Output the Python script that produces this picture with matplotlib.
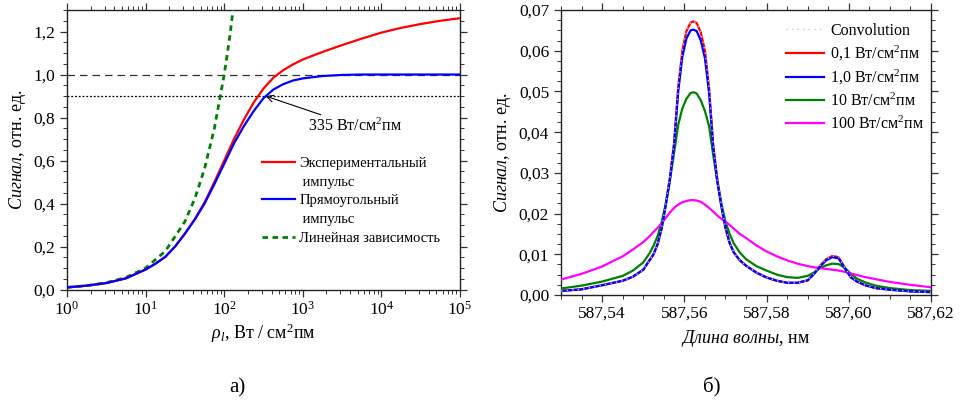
import numpy as np
import matplotlib
matplotlib.use("Agg")
import matplotlib.pyplot as plt
from matplotlib.lines import Line2D
from matplotlib.ticker import MultipleLocator, FuncFormatter, LogLocator, NullFormatter

plt.rcParams['font.family'] = ['Liberation Serif', 'DejaVu Serif']
plt.rcParams['mathtext.fontset'] = 'custom'
plt.rcParams['mathtext.rm'] = 'Liberation Serif'
plt.rcParams['mathtext.it'] = 'Liberation Serif:italic'
plt.rcParams['mathtext.bf'] = 'Liberation Serif:bold'

# ---------------- panel a) data ----------------
log_rho = [0, 0.25, 0.5, 0.75, 1.0, 1.125, 1.25, 1.375, 1.5, 1.625, 1.75, 1.875,
           2.0, 2.125, 2.25, 2.375, 2.5, 2.625, 2.75, 2.875, 3.0, 3.25, 3.5,
           3.75, 4.0, 4.25, 4.5, 4.75, 5.0]
sig_exp = [0.010, 0.018, 0.030, 0.052, 0.093, 0.120, 0.152, 0.200, 0.260, 0.327, 0.405, 0.500,
           0.600, 0.700, 0.790, 0.870, 0.935, 0.985, 1.020, 1.047, 1.070, 1.105, 1.137,
           1.167, 1.195, 1.217, 1.235, 1.250, 1.262]
sig_rect = [0.010, 0.018, 0.030, 0.052, 0.093, 0.120, 0.152, 0.200, 0.260, 0.325, 0.400, 0.490,
            0.585, 0.680, 0.760, 0.830, 0.890, 0.930, 0.955, 0.972, 0.982, 0.993, 0.998,
            1.000, 1.000, 1.000, 1.000, 1.000, 1.000]
log_rho_lin = [0, 0.25, 0.5, 0.75, 1.0, 1.25, 1.5, 1.625, 1.75, 1.875, 2.0, 2.0625, 2.125]
sig_lin = [0.010, 0.0178, 0.0316, 0.0562, 0.100, 0.178, 0.316, 0.422, 0.562, 0.750, 1.000, 1.155, 1.334]

rho = [10 ** v for v in log_rho]
rho_lin = [10 ** v for v in log_rho_lin]
sat_level = 1.0
level_90 = 0.9
rho_90 = 335

# ---------------- panel b) data ----------------
wl = [587.530, 587.535, 587.540, 587.545, 587.5475, 587.550, 587.5515, 587.5525, 587.5535,
      587.5545, 587.5555, 587.5565, 587.5575, 587.5585, 587.5595, 587.5605, 587.5615, 587.5622,
      587.5630, 587.5640, 587.5650, 587.5660, 587.5670, 587.5680, 587.5690, 587.5700, 587.5710,
      587.5720, 587.5735, 587.575, 587.5775, 587.580, 587.5825, 587.585, 587.5875, 587.590,
      587.5915, 587.593, 587.5945, 587.596, 587.5975, 587.599, 587.6005, 587.602, 587.604,
      587.6065, 587.610, 587.615, 587.620]
s01 = [0.0010, 0.0014, 0.0024, 0.0035, 0.0045, 0.0062, 0.0085, 0.0100, 0.0125,
       0.0165, 0.0225, 0.0290, 0.0375, 0.0510, 0.0600, 0.0648, 0.0669, 0.0672,
       0.0668, 0.0645, 0.0600, 0.0510, 0.0370, 0.0285, 0.0220, 0.0165, 0.0128,
       0.0105, 0.0085, 0.0072, 0.0055, 0.0043, 0.0035, 0.0030, 0.0030, 0.0036,
       0.0052, 0.0072, 0.0088, 0.0096, 0.0093, 0.0068, 0.0044, 0.0033, 0.0024,
       0.0017, 0.0013, 0.0009, 0.0007]
s10 = [0.0010, 0.0014, 0.0024, 0.0035, 0.0045, 0.0062, 0.0085, 0.0100, 0.0125,
       0.0165, 0.0222, 0.0285, 0.0368, 0.0500, 0.0585, 0.0630, 0.0650, 0.0652,
       0.0648, 0.0625, 0.0582, 0.0497, 0.0365, 0.0280, 0.0217, 0.0165, 0.0128,
       0.0105, 0.0085, 0.0072, 0.0055, 0.0043, 0.0035, 0.0030, 0.0030, 0.0036,
       0.0051, 0.0070, 0.0085, 0.0093, 0.0090, 0.0066, 0.0043, 0.0033, 0.0024,
       0.0017, 0.0013, 0.0009, 0.0007]
s100 = [0.0016, 0.0023, 0.0033, 0.0047, 0.0060, 0.0080, 0.0102, 0.0121, 0.0145,
        0.0180, 0.0225, 0.0283, 0.0350, 0.0418, 0.0458, 0.0482, 0.0496, 0.0498,
        0.0495, 0.0478, 0.0452, 0.0415, 0.0345, 0.0280, 0.0225, 0.0180, 0.0150,
        0.0127, 0.0104, 0.0088, 0.0071, 0.0060, 0.0050, 0.0044, 0.0042, 0.0047,
        0.0055, 0.0066, 0.0073, 0.0077, 0.0076, 0.0067, 0.0052, 0.0040, 0.0031,
        0.0023, 0.0017, 0.0012, 0.0010]
s1000 = [0.0038, 0.0052, 0.0070, 0.0095, 0.0112, 0.0130, 0.0144, 0.0155, 0.0165,
         0.0176, 0.0190, 0.0203, 0.0214, 0.0222, 0.0228, 0.0231, 0.0233, 0.0233,
         0.0232, 0.0229, 0.0222, 0.0214, 0.0205, 0.0195, 0.0187, 0.0180, 0.0172,
         0.0163, 0.0150, 0.0140, 0.0122, 0.0107, 0.0095, 0.0085, 0.0077, 0.0071,
         0.0068, 0.0066, 0.0064, 0.0062, 0.0060, 0.0057, 0.0053, 0.0049, 0.0044,
         0.0039, 0.0032, 0.0025, 0.0019]
s_conv = s01

labels_b = ["Convolution", r"0,1 Вт/см$^2$пм", r"1,0 Вт/см$^2$пм",
            r"10 Вт/см$^2$пм", r"100 Вт/см$^2$пм"]

comma = lambda fmt: FuncFormatter(lambda v, p: (fmt % v).replace('.', ','))

fig = plt.figure(figsize=(9.63, 4.04), dpi=100)
ax1 = fig.add_axes([0.0696, 0.2834, 0.4081, 0.6918])
ax2 = fig.add_axes([0.5826, 0.2698, 0.3842, 0.7054])

# ---------- panel a ----------
ax1.plot(rho_lin, sig_lin, color='#008000', lw=2, ls=(0, (2, 1.6)), zorder=3)
ax1.plot(rho, sig_exp, color='#ff0000', lw=1.6, zorder=4)
ax1.plot(rho, sig_rect, color='#0000ff', lw=1.6, zorder=5)
ax1.axhline(sat_level, color='#333333', lw=0.9, ls=(0, (6, 4)), zorder=2)
ax1.axhline(level_90, color='black', lw=0.9, ls=(0, (1.5, 1.5)), zorder=2)
ax1.set_xscale('log')
ax1.set_xlim(1, 1e5)
ax1.set_ylim(0, 1.3)
ax1.yaxis.set_major_locator(MultipleLocator(0.2))
ax1.yaxis.set_minor_locator(MultipleLocator(0.05))
ax1.yaxis.set_major_formatter(comma('%.1f'))
ax1.xaxis.set_major_locator(LogLocator(base=10, numticks=10))
ax1.xaxis.set_minor_locator(LogLocator(base=10, subs=np.arange(2, 10), numticks=20))
ax1.xaxis.set_minor_formatter(NullFormatter())
ax1.set_ylabel(r"$\mathit{Сигнал}$, отн. ед.", fontsize=13, labelpad=4)
ax1.set_xlabel(r"$\mathit{\rho_l}$, Вт / см$^2$пм", fontsize=13, labelpad=2)
ax1.annotate(r"335 Вт/см$^2$пм", xy=(rho_90, level_90), xytext=(1150, 0.80),
             fontsize=11.5, ha='left', va='top',
             arrowprops=dict(arrowstyle='->', color='black', lw=0.8,
                             shrinkA=0, shrinkB=0, mutation_scale=12))

blank = Line2D([], [], color='none')
h1 = [Line2D([], [], color='#ff0000', lw=1.6), blank,
      Line2D([], [], color='#0000ff', lw=1.6), blank,
      Line2D([], [], color='#008000', lw=2, ls=(0, (2, 1.6)))]
l1 = ["Экспериментальный", " импульс", "Прямоугольный", " импульс", "Линейная зависимость"]
ax1.legend(h1, l1, loc='upper left', bbox_to_anchor=(0.495, 0.475), frameon=False,
           fontsize=10.5, handlelength=2.3, handletextpad=0.3, labelspacing=0.38,
           borderpad=0, borderaxespad=0)

# ---------- panel b ----------
ax2.plot(wl, s01, color='#ff0000', lw=1.6, zorder=3, label=labels_b[1])
ax2.plot(wl, s10, color='#0000ff', lw=1.6, zorder=4, label=labels_b[2])
ax2.plot(wl, s100, color='#008000', lw=1.6, zorder=3, label=labels_b[3])
ax2.plot(wl, s1000, color='#ff00ff', lw=1.6, zorder=3, label=labels_b[4])
ax2.plot(wl, s_conv, color='#c8c8c8', lw=1.0, ls=(0, (1, 3)), zorder=6, label=labels_b[0])
ax2.set_xlim(587.53, 587.62)
ax2.set_ylim(0, 0.07)
ax2.xaxis.set_major_locator(MultipleLocator(0.02))
ax2.xaxis.set_minor_locator(MultipleLocator(0.005))
ax2.yaxis.set_major_locator(MultipleLocator(0.01))
ax2.yaxis.set_minor_locator(MultipleLocator(0.0025))
ax2.xaxis.set_major_formatter(comma('%.2f'))
ax2.yaxis.set_major_formatter(comma('%.2f'))
ax2.set_ylabel(r"$\mathit{Сигнал}$, отн. ед.", fontsize=13, labelpad=4)
ax2.set_xlabel(r"$\mathit{Длина\ волны}$, нм", fontsize=13, labelpad=4)
hs, ls = ax2.get_legend_handles_labels()
order = [4, 0, 1, 2, 3]
ax2.legend([hs[i] for i in order], [ls[i] for i in order], loc='upper left',
           bbox_to_anchor=(0.608, 0.955), frameon=False, fontsize=11.5,
           handlelength=2.4, handletextpad=0.35, labelspacing=0.33,
           borderpad=0, borderaxespad=0)

for ax in (ax1, ax2):
    ax.tick_params(which='both', direction='out', top=True, right=True,
                   labelsize=12.5, color='#333333')
    ax.tick_params(which='major', length=5, width=0.9)
    ax.tick_params(which='minor', length=3, width=0.7)
    ax.tick_params(axis='x', pad=3)
    for s in ax.spines.values():
        s.set_linewidth(1.0)
        s.set_color('#222222')

fig.text(0.246, 0.040, "а)", fontsize=15, ha='center', va='center')
fig.text(0.739, 0.040, "б)", fontsize=15, ha='center', va='center')

fig.savefig("out.png", dpi=100)
